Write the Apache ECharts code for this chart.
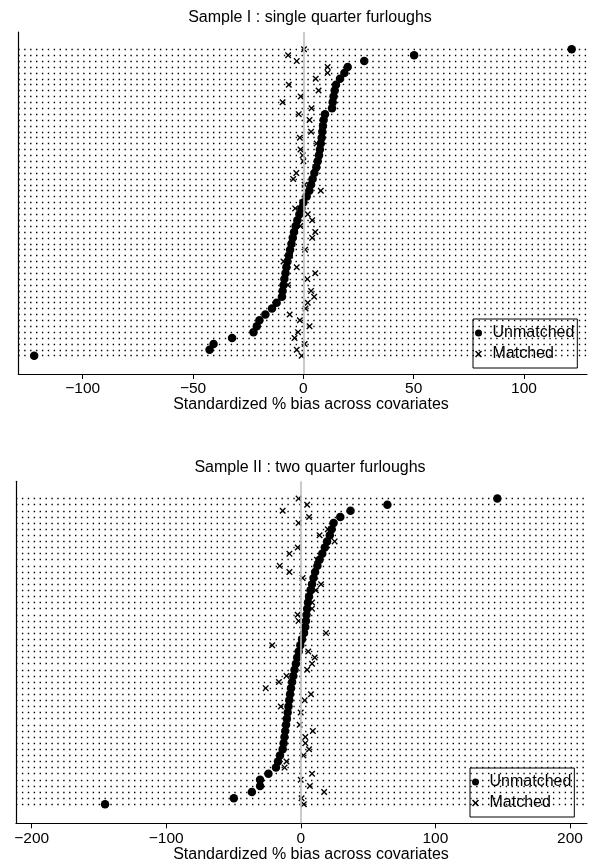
<!DOCTYPE html>
<html><head><meta charset="utf-8">
<script src="https://cdn.jsdelivr.net/npm/echarts@6/dist/echarts.min.js"></script>
<style>html,body{margin:0;padding:0;background:#fff}#c{width:590px;height:864px}</style>
</head><body><div id="c"></div>
<script>
// ---- data (row 0 = bottom row) ----
const titles = ['Sample I : single quarter furloughs', 'Sample II : two quarter furloughs'];
const xTitle = 'Standardized % bias across covariates';
const legendNames = ['Unmatched', 'Matched'];
const ticks1 = [-100, -50, 0, 50, 100];
const ticks2 = [-200, -100, 0, 100, 200];

const unmatched1 = [
  -122, -42.5, -40.7, -32.3, -22.6, -21.1, -19.9, -17.2, -14.2, -12.1,
  -9.7, -9.4, -9.0, -8.6, -8.1, -7.7, -7.2, -6.6, -6.0, -5.4,
  -4.8, -4.2, -3.5, -2.7, -1.8, -0.9, 0.0, 1.5, 2.7, 3.5,
  4.2, 5.0, 5.9, 6.5, 7.1, 7.5, 7.9, 8.3, 8.6, 8.9,
  9.2, 9.8, 13.0, 13.3, 13.7, 14.2, 14.8, 16.6, 18.6, 20.1,
  27.6, 50.2, 121.6
];
const matched1 = [
  -0.8, -3.0, 0.6, -4.0, -2.4, 2.8, -1.6, -6.2, 1.0, 2.0,
  4.9, 3.5, -7.0, 1.8, 5.4, -3.0, -9.0, -6.0, 0.8, -5.0,
  4.0, 5.4, -1.4, 4.0, 2.0, -3.7, -0.5, 1.0, 7.9, 0.6,
  -4.6, -3.2, 5.5, 0.0, -0.3, -1.3, 6.0, -1.6, 3.5, 8.5,
  2.8, -2.1, 3.7, -9.4, -1.2, 6.9, -6.6, 5.6, 11.0, 11.0,
  -3.0, -6.9, 0.3
];
const unmatched2 = [
  -145.5, -49.8, -36.4, -30.3, -30.3, -24.1, -18.5, -17.0, -15.5, -13.5,
  -12.8, -12.2, -11.6, -11.0, -10.4, -9.8, -9.2, -8.6, -8.0, -7.3,
  -6.5, -5.6, -4.7, -3.7, -2.7, -1.6, -0.4, 0.9, 2.4, 3.3,
  3.8, 4.2, 4.7, 5.3, 6.1, 7.2, 8.3, 9.4, 10.6, 12.3,
  13.9, 15.9, 17.8, 19.5, 21.5, 22.9, 24.3, 29.3, 36.9, 64.3,
  146
];
const matched2 = [
  2.2, 0.5, 17.3, 6.7, -0.1, 8.3, -12.1, -10.7, 1.9, 6.1,
  3.3, 3.3, 8.9, -0.9, -10.0, -0.1, -14.9, 2.8, 7.5, -26.1,
  -16.3, -10.7, 4.7, 8.3, 10.3, 5.5, -21.3, 0.5, 18.7, 3.0,
  -1.7, -2.4, 8.3, 8.3, 5.5, 11.1, 15.0, 1.3, -8.5, -15.7,
  12.0, -8.5, -2.3, 25.1, 13.9, 20.0, -1.7, 6.1, -13.5, 4.7,
  -1.7
];

// ---- layout / style ----
const FONT = '"Liberation Sans", Arial, Helvetica, sans-serif';
const X_PATH = 'path://M0,1.5L1.5,0L5,3.5L8.5,0L10,1.5L6.5,5L10,8.5L8.5,10L5,6.5L1.5,10L0,8.5L3.5,5Z';

const panels = [
  { un: unmatched1, ma: matched1, ticks: ticks1,
    grid: { left: 18.3, top: 32, width: 568.7, height: 342 },
    xmin: -129.19, xmax: 128.55, ymin: -3.107, ymax: 54.94,
    titleTop: 10, xTitleY: 405, legend: { left: 473, top: 319 } },
  { un: unmatched2, ma: matched2, ticks: ticks2,
    grid: { left: 16, top: 481.3, width: 571, height: 342 },
    xmin: -211.66, xmax: 212.62, ymin: -3.11, ymax: 52.83,
    titleTop: 459.3, xTitleY: 855, legend: { left: 470, top: 768 } }
];

const fmt = v => String(v).replace('-', '\u2212');

const option = {
  animation: false,
  backgroundColor: '#fff',
  textStyle: { fontFamily: FONT },
  title: panels.map((p, k) => ({
    text: titles[k], left: 310, top: p.titleTop, textAlign: 'center', padding: 0,
    textStyle: { fontSize: 16, fontWeight: 'normal', color: '#000', fontFamily: FONT }
  })),
  grid: panels.map(p => Object.assign({ containLabel: false }, p.grid)),
  xAxis: panels.map((p, k) => ({
    type: 'value', gridIndex: k, min: p.xmin, max: p.xmax,
    axisLine: { show: true, onZero: false, lineStyle: { color: '#000', width: 1.2 } },
    axisTick: { show: true, customValues: p.ticks, length: 5, lineStyle: { color: '#000', width: 1 } },
    axisLabel: { show: true, customValues: p.ticks, formatter: fmt, margin: 7,
      fontSize: 15.5, color: '#000', fontFamily: FONT },
    splitLine: { show: false }
  })),
  yAxis: panels.map((p, k) => ({
    type: 'value', gridIndex: k, min: p.ymin, max: p.ymax,
    axisLine: { show: true, onZero: false, lineStyle: { color: '#000', width: 1.2 } },
    axisTick: { show: false }, axisLabel: { show: false }, splitLine: { show: false }
  })),
  legend: panels.map(p => ({
    left: p.legend.left, top: p.legend.top, orient: 'vertical',
    data: [{ name: legendNames[0], icon: 'circle' }, { name: legendNames[1], icon: X_PATH }],
    itemWidth: 18, itemHeight: 7, itemGap: 5, padding: [6, 3, 6, 2],
    borderColor: '#000', borderWidth: 1, backgroundColor: '#fff', borderRadius: 0,
    selectedMode: false,
    itemStyle: { opacity: 1 },
    textStyle: { fontSize: 16, lineHeight: 16, color: '#000', fontFamily: FONT }
  })),
  series: []
};

panels.forEach((p, k) => {
  const rows = p.un.map((_, i) => i);
  option.series.push({
    type: 'line', name: 'rows' + k, xAxisIndex: k, yAxisIndex: k,
    data: [[0, 0]], showSymbol: false, symbol: 'none',
    lineStyle: { opacity: 0 }, silent: true, z: 1,
    markLine: {
      silent: true, symbol: ['none', 'none'], animation: false,
      label: { show: false },
      emphasis: { disabled: true },
      data: rows.map(i => ({ yAxis: i,
        lineStyle: { color: '#000', width: 1.4, type: [1.4, 4.5], cap: 'butt', opacity: 1 } }))
        .concat([{ xAxis: 0, lineStyle: { color: '#bdbdbd', width: 1.6, type: 'solid', opacity: 1 } }])
    }
  });
  option.series.push({
    type: 'scatter', name: legendNames[1], xAxisIndex: k, yAxisIndex: k,
    data: p.ma.map((v, i) => [v, i]),
    symbol: X_PATH, symbolSize: 6.5,
    itemStyle: { color: '#000', opacity: 1 }, z: 3, silent: true
  });
  option.series.push({
    type: 'scatter', name: legendNames[0], xAxisIndex: k, yAxisIndex: k,
    data: p.un.map((v, i) => [v, i]),
    symbol: 'circle', symbolSize: 8.5,
    itemStyle: { color: '#000', opacity: 1 }, z: 4, silent: true
  });
});

option.graphic = panels.map(p => ({
  type: 'text', x: 311, y: p.xTitleY,
  style: { text: xTitle, fontSize: 16, fill: '#000', fontFamily: FONT,
    align: 'center', verticalAlign: 'middle' }
}));

const chart = echarts.init(document.getElementById('c'), null, { renderer: 'canvas' });
chart.setOption(option);
</script>
</body></html>
